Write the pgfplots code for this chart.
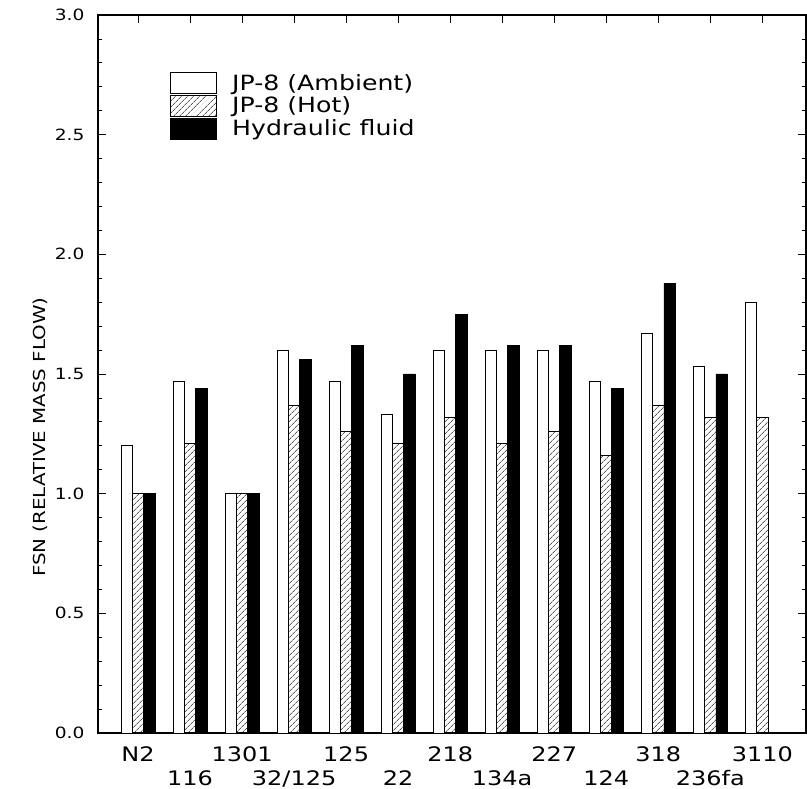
\documentclass[border=0pt]{standalone}
\usepackage{fontspec}
\setmainfont{DejaVu Sans}[FakeStretch=1.2]
\usepackage{pgfplots}
\usepackage{pgfplotstable}
\pgfplotsset{compat=1.18}
\usetikzlibrary{patterns.meta}

% relative mass flow (FSN) per agent
\pgfplotstableread{
idx amb  hot  hyd
0   1.20 1.00 1.00
1   1.47 1.21 1.44
2   1.00 1.00 1.00
3   1.60 1.37 1.56
4   1.47 1.26 1.62
5   1.33 1.21 1.50
6   1.60 1.32 1.75
7   1.60 1.21 1.62
8   1.60 1.26 1.62
9   1.47 1.16 1.44
10  1.67 1.37 1.88
11  1.53 1.32 1.50
12  1.80 1.32 nan
}\fsndata

\pgfplotsset{
  legbox/.style={legend image code/.code={\draw[##1] (0pt,-10.5pt) rectangle (46pt,10.5pt);}},
}
\newcommand{\yt}[1]{{\fontsize{15.5}{18}\selectfont #1}}

\begin{document}
\begin{tikzpicture}
\begin{axis}[
  at={(0,0)}, anchor=south west,
  scale only axis, width=708pt, height=718pt,
  xmin=-0.77, xmax=12.84, ymin=0, ymax=3,
  ybar=0pt, bar width=11.3pt,
  xtick={0,2,4,6,8,10,12},
  xticklabels={N2,1301,125,218,227,318,3110},
  extra x ticks={1,3,5,7,9,11},
  extra x tick labels={116,32/125,22,134a,124,236fa},
  extra x tick style={xticklabel style={yshift=-24pt}},
  xtick pos=right, xticklabel pos=left,
  xticklabel style={font=\fontsize{20}{23}\selectfont, yshift=-10pt},
  ytick={0,0.5,1,1.5,2,2.5,3},
  yticklabels={\yt{0.0},\yt{0.5},\yt{1.0},\yt{1.5},\yt{2.0},\yt{2.5},\yt{3.0}},
  minor y tick num=4, ytick pos=both,
  y tick label style={font=\fontsize{15.5}{18}\selectfont, xshift=-10pt},
  tick align=inside,
  major tick length=8pt, minor tick length=4pt,
  axis line style={line width=1.2pt},
  tick style={line width=0.8pt, black},
  ylabel={FSN (RELATIVE MASS FLOW)},
  ylabel style={font=\fontsize{16.5}{20}\selectfont, at={(axis description cs:-0.082,0.412)}, anchor=center},
  legend style={draw=none, fill=none, at={(axis description cs:0.102,0.921)}, anchor=north west,
    font=\fontsize{21}{24}\selectfont, row sep=1pt, inner sep=0pt,
    nodes={inner sep=1pt, anchor=west}},
  legend cell align=left,
]
\addplot[fill=white, draw=black, line width=0.8pt, legbox] table[x=idx, y=amb]{\fsndata};
\addplot[pattern={Lines[angle=45,distance=4pt,line width=0.6pt]}, draw=black, line width=0.8pt, legbox] table[x=idx, y=hot]{\fsndata};
\addplot[fill=black, draw=black, line width=0.8pt, legbox] table[x=idx, y=hyd]{\fsndata};
\legend{\hspace{14pt}JP-8 (Ambient), \hspace{14pt}JP-8 (Hot), \hspace{14pt}Hydraulic fluid}
\end{axis}
\pgfresetboundingbox
\useasboundingbox (-98pt,-56pt) rectangle (709pt,733pt);
\end{tikzpicture}
\end{document}
